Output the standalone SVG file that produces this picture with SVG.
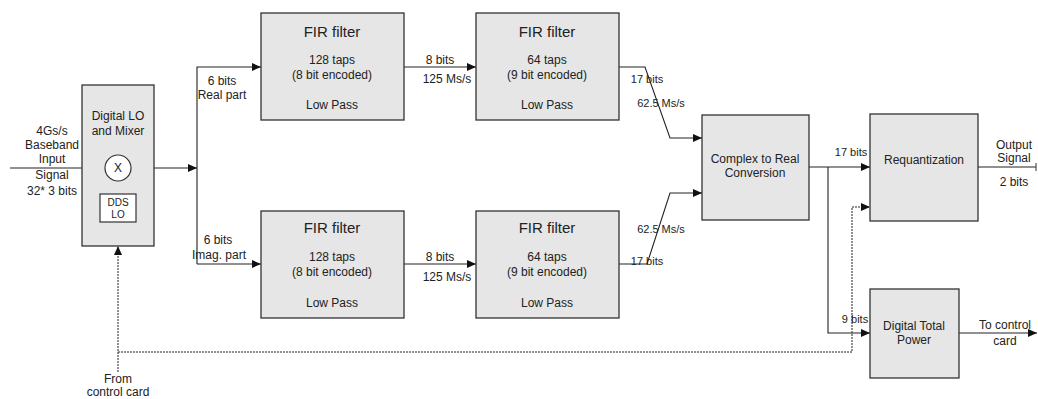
<svg xmlns="http://www.w3.org/2000/svg" width="1038" height="399" viewBox="0 0 1038 399">
<style>
.box{fill:#e6e6e6;stroke:#333;stroke-width:1.3}
.w{fill:#fff;stroke:#333;stroke-width:1.2}
text{font-family:"Liberation Sans",Arial,sans-serif;font-size:12px;fill:#222;text-anchor:middle}
.big{font-size:15px}
.sm{font-size:10px}
.s11{font-size:11px}
.ln{fill:none;stroke:#222;stroke-width:1.1}
.dash{fill:none;stroke:#222;stroke-width:1;stroke-dasharray:2,1}
</style>
<defs>
<marker id="ah" markerWidth="9" markerHeight="8" refX="9" refY="4" orient="auto" markerUnits="userSpaceOnUse"><path d="M0,0 L9,4 L0,8 Z" fill="#111"/></marker>
<marker id="tick" markerWidth="2" markerHeight="8" refX="1" refY="4" orient="auto" markerUnits="userSpaceOnUse"><path d="M1,0 V8" stroke="#333" stroke-width="1"/></marker>
</defs>
<rect width="1038" height="399" fill="#fff"/>
<g id="connectors">
<path class="ln" d="M10,168 H105" marker-end="url(#ah)"/>
<path class="ln" d="M118,194 V181" marker-end="url(#ah)"/>
<path class="ln" d="M131,168 H197" marker-end="url(#ah)"/>
<path class="ln" d="M197,264 V67 H261" marker-end="url(#ah)"/>
<path class="ln" d="M197,264 H261" marker-end="url(#ah)"/>
<path class="ln" d="M404,67 H476" marker-end="url(#ah)"/>
<path class="ln" d="M404,264 H476" marker-end="url(#ah)"/>
<path class="ln" d="M619,67 H645 L670,138 H702" marker-end="url(#ah)"/>
<path class="ln" d="M619,264 H647 L670,193 H702" marker-end="url(#ah)"/>
<path class="ln" d="M809,167 H870" marker-end="url(#ah)"/>
<path class="ln" d="M828,167 V333 H870" marker-end="url(#ah)"/>
<path class="ln" d="M978,167 H1036" marker-end="url(#tick)"/>
<path class="ln" d="M959,333 H1037" marker-end="url(#ah)"/>
<path class="dash" d="M118,372 V246" marker-end="url(#ah)"/>
<path class="dash" d="M118,352 H852 V207 H870" marker-end="url(#ah)"/>
</g>
<g id="lo">
<rect class="box" x="82" y="85" width="72" height="161"/>
<text x="118" y="120">Digital LO</text>
<text x="118" y="135">and Mixer</text>
</g>
<g id="mixer">
<circle class="w" cx="118" cy="168" r="13"/>
<text x="118" y="172">X</text>
</g>
<g id="dds">
<rect class="w" x="100" y="194" width="36" height="28"/>
<text class="sm" x="118" y="206">DDS</text>
<text class="sm" x="118" y="218">LO</text>
</g>
<g id="fir1">
<rect class="box" x="261" y="13" width="143" height="107"/>
<text class="big" x="332" y="37">FIR filter</text>
<text x="332" y="64">128 taps</text>
<text x="332" y="79">(8 bit encoded)</text>
<text x="332" y="109">Low Pass</text>
</g>
<g id="fir2">
<rect class="box" x="261" y="211" width="143" height="107"/>
<text class="big" x="332" y="233">FIR filter</text>
<text x="332" y="261">128 taps</text>
<text x="332" y="276">(8 bit encoded)</text>
<text x="332" y="307">Low Pass</text>
</g>
<g id="fir3">
<rect class="box" x="476" y="13" width="143" height="107"/>
<text class="big" x="547" y="37">FIR filter</text>
<text x="547" y="64">64 taps</text>
<text x="547" y="79">(9 bit encoded)</text>
<text x="547" y="109">Low Pass</text>
</g>
<g id="fir4">
<rect class="box" x="476" y="211" width="143" height="107"/>
<text class="big" x="547" y="233">FIR filter</text>
<text x="547" y="261">64 taps</text>
<text x="547" y="276">(9 bit encoded)</text>
<text x="547" y="307">Low Pass</text>
</g>
<g id="complex">
<rect class="box" x="702" y="115" width="107" height="105"/>
<text x="755" y="163">Complex to Real</text>
<text x="755" y="177">Conversion</text>
</g>
<g id="requant">
<rect class="box" x="870" y="114" width="108" height="107"/>
<text x="924" y="164">Requantization</text>
</g>
<g id="dtp">
<rect class="box" x="870" y="289" width="89" height="89"/>
<text x="914" y="330">Digital Total</text>
<text x="914" y="344">Power</text>
</g>
<g id="labels">
<text x="52" y="135">4Gs/s</text>
<text x="52" y="149">Baseband</text>
<text x="52" y="163">Input</text>
<text x="52" y="179">Signal</text>
<text x="52" y="195">32* 3 bits</text>
<text x="222" y="85">6 bits</text>
<text x="222" y="99">Real part</text>
<text x="218" y="244">6 bits</text>
<text x="219" y="259">Imag. part</text>
<text x="440" y="64">8 bits</text>
<text x="447" y="83">125 Ms/s</text>
<text x="440" y="261">8 bits</text>
<text x="447" y="281">125 Ms/s</text>
<text class="s11" x="647" y="83">17 bits</text>
<text class="s11" x="661" y="107">62.5 Ms/s</text>
<text class="s11" x="661" y="233">62.5 Ms/s</text>
<text class="s11" x="647" y="265">17 bits</text>
<text class="s11" x="851" y="156">17 bits</text>
<text class="s11" x="855" y="323">9 bits</text>
<text x="1014" y="149">Output</text>
<text x="1014" y="162">Signal</text>
<text x="1014" y="186">2 bits</text>
<text x="1005" y="329">To control</text>
<text x="1005" y="345">card</text>
<text x="118" y="383">From</text>
<text x="118" y="396">control card</text>
</g>
</svg>
